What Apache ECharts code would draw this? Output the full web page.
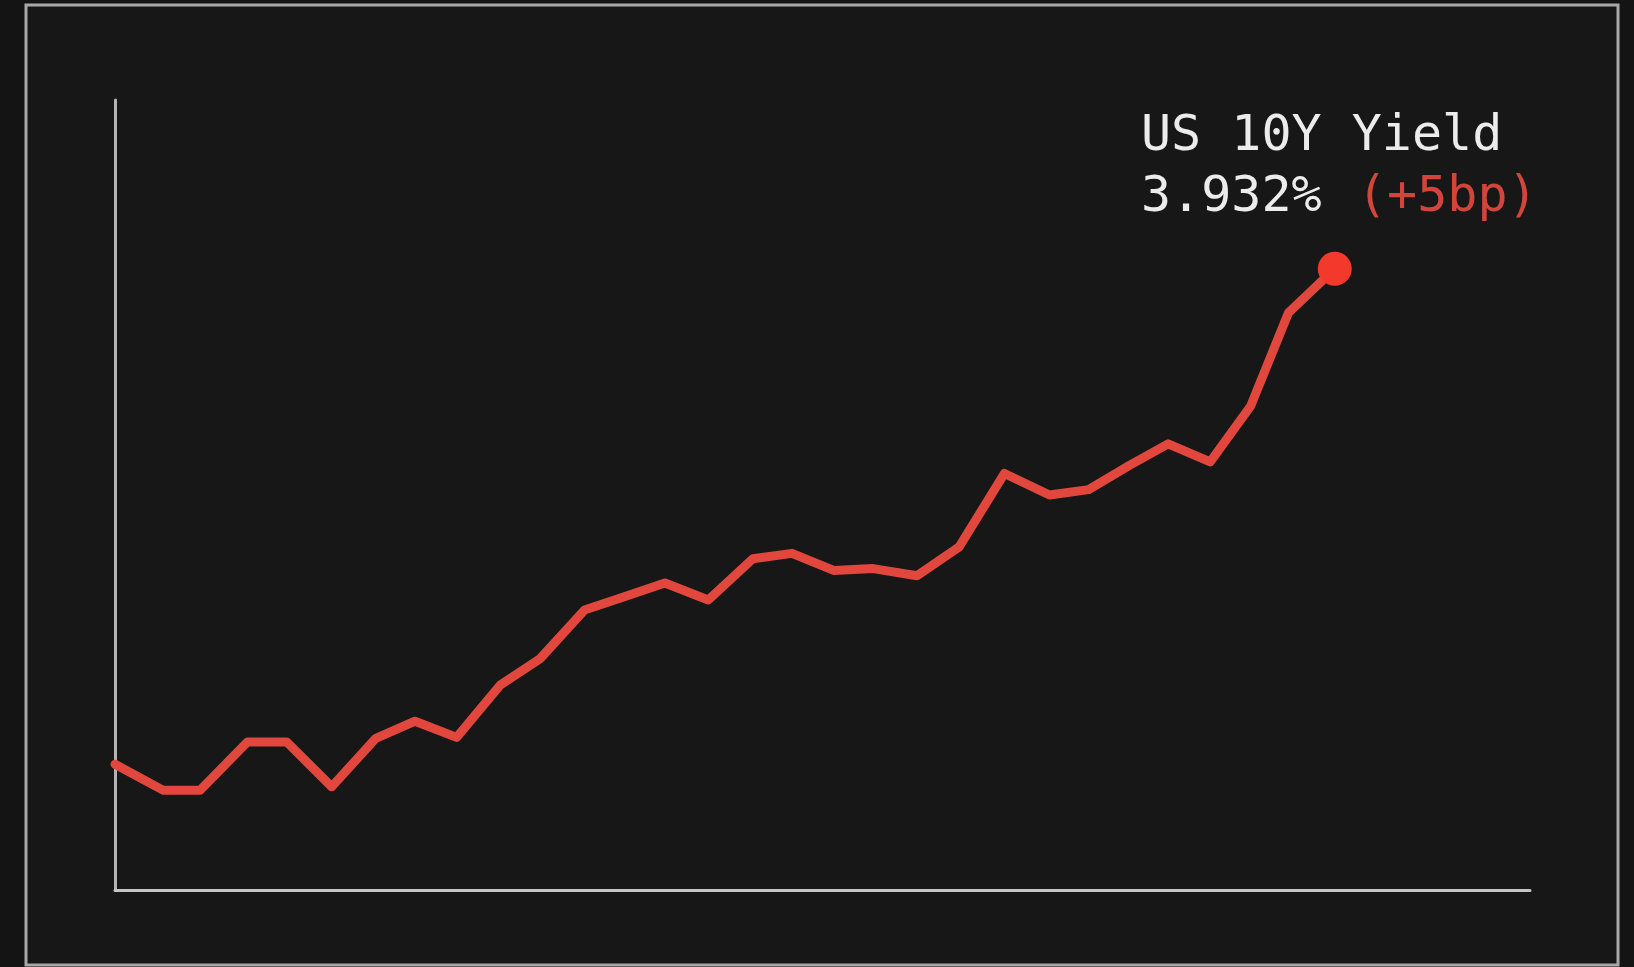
<!DOCTYPE html>
<html>
<head>
<meta charset="utf-8">
<script src="https://cdn.jsdelivr.net/npm/echarts@6/dist/echarts.min.js"></script>
<style>
html,body{margin:0;padding:0;background:#141414;}
#c{width:1634px;height:967px;}
</style>
</head>
<body>
<div id="c"></div>
<script>
// Time position (sessions) and US 10Y yield in % (y)
const days = [0,1.15,2.02,3.15,4.08,5.15,6.2,7.13,8.12,9.15,10.11,11.16,12.12,13.07,14.1,15.16,16.09,17.08,18.02,19.06,20.06,21.14,22.21,23.14,24.11,25.03,26.03,26.99,27.89,28.99];
const yields = [3.380,3.351,3.351,3.405,3.405,3.355,3.409,3.428,3.410,3.468,3.498,3.552,3.567,3.582,3.563,3.609,3.615,3.596,3.598,3.590,3.622,3.704,3.680,3.686,3.713,3.737,3.717,3.779,3.883,3.932];
const titleText = 'US 10Y Yield';
const lastText = '3.932%';
const changeText = '(+5bp)';

const chart = echarts.init(document.getElementById('c'), null, {renderer:'canvas'});
const seriesData = days.map((d,i)=>[d, yields[i]]);
const lastIdx = seriesData.length - 1;

chart.setOption({
  backgroundColor: '#141414',
  animation: false,
  grid: {left:115, top:100, width:1415, height:790, containLabel:false},
  xAxis: {
    type:'value', min:0, max:33.63,
    axisLine:{show:true, onZero:false, lineStyle:{color:'#c4c4c4', width:3}},
    axisTick:{show:false}, axisLabel:{show:false}, splitLine:{show:false}
  },
  yAxis: {
    type:'value', min:3.24, max:4.12,
    axisLine:{show:true, onZero:false, lineStyle:{color:'#b4b4b4', width:3}},
    axisTick:{show:false}, axisLabel:{show:false}, splitLine:{show:false}
  },
  graphic: [
    {type:'rect', z:-1, shape:{x:26, y:5, width:1592, height:960},
     style:{fill:'#171717', stroke:'#a8a8a8', lineWidth:3}},
    {type:'text', z:10, style:{x:1141, y:137, text:titleText,
      font:'50px "DejaVu Sans Mono"', fill:'#ececec', verticalAlign:'middle'}},
    {type:'text', z:10, style:{x:1141, y:198, text:lastText,
      font:'50px "DejaVu Sans Mono"', fill:'#ececec', verticalAlign:'middle'}},
    {type:'text', z:10, style:{x:1357, y:198, text:changeText,
      font:'50px "DejaVu Sans Mono"', fill:'#d2453b', verticalAlign:'middle'}}
  ],
  series: [{
    type:'line',
    data: seriesData.map((p,i)=> i===lastIdx ? {value:p, symbol:'circle', symbolSize:34, itemStyle:{color:'#f2392c'}} : {value:p, symbol:'none'}),
    showSymbol:true,
    lineStyle:{color:'#e2473d', width:9, join:'round', cap:'round'},
    itemStyle:{color:'#f2392c'},
    emphasis:{disabled:true}
  }]
});
</script>
</body>
</html>
